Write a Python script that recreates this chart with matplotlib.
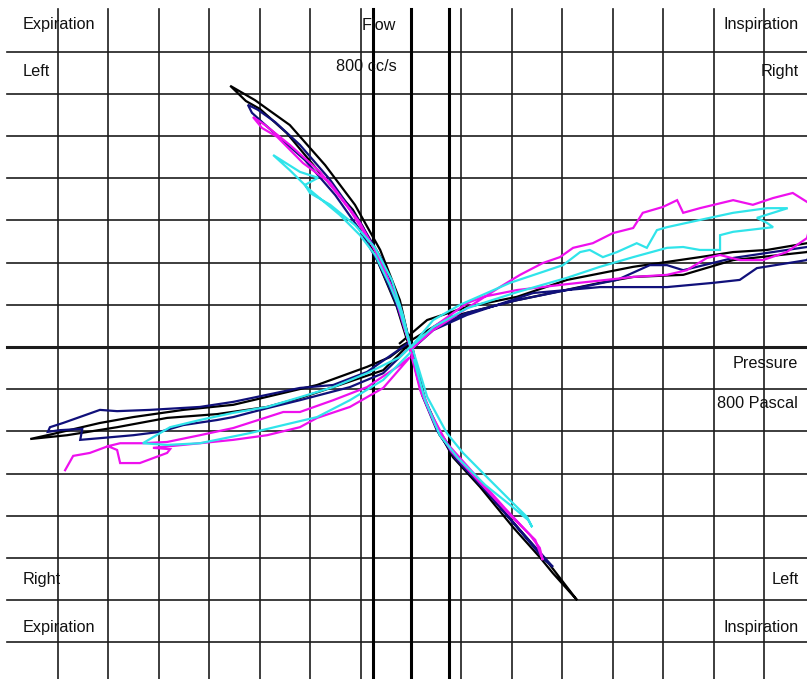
import matplotlib
matplotlib.use("Agg")
import matplotlib.pyplot as plt

plt.rcParams["font.family"] = ["Liberation Sans", "DejaVu Sans"]

# Rhinomanometry loops: (pressure Pa, flow cc/s)
# left nostril: expiration (upper-left) / inspiration (lower-right)
# right nostril: expiration (lower-left) / inspiration (upper-right)

black_ul = [(0, 0), (-8, 17), (-28, 95), (-67, 206), (-95, 284), (-115, 325), (-180, 412),
            (-246, 507), (-299, 564), (-327, 583), (-358, 619), (-309, 585), (-240, 526),
            (-170, 431), (-111, 337), (-61, 230), (-22, 111), (-2, 5)]
black_lr = [(4, -7), (24, -118), (57, -204), (83, -261), (137, -332), (202, -427), (255, -498),
            (281, -536), (329, -600), (309, -569), (271, -510), (216, -434), (156, -351),
            (97, -273), (57, -209), (28, -126), (8, -31)]
black_ur = [(-22, 9), (32, 64), (111, 95), (210, 119), (309, 159), (440, 190), (572, 213),
            (638, 225), (705, 230), (784, 246), (800, 240), (784, 225), (638, 206), (539, 171),
            (440, 166), (374, 152), (210, 111), (77, 71), (-22, 0)]
black_ll = [(-2, 12), (-42, -24), (-87, -47), (-186, -90), (-253, -109), (-352, -137),
            (-451, -149), (-550, -166), (-616, -180), (-709, -206), (-754, -218), (-681, -209),
            (-582, -190), (-483, -168), (-384, -159), (-285, -142), (-220, -121), (-154, -95),
            (-55, -55), (-2, 9)]

navy_ul = [(0, 0), (-12, 40), (-32, 111), (-65, 201), (-101, 277), (-150, 360), (-210, 443),
           (-259, 495), (-293, 531), (-315, 555), (-323, 574), (-303, 562), (-269, 533),
           (-220, 479), (-160, 396), (-101, 296), (-57, 206), (-22, 100), (0, 0)]
navy_lr = [(4, -19), (28, -126), (57, -201), (97, -273), (156, -351), (216, -434), (281, -521),
           (265, -505), (206, -422), (147, -339), (87, -263), (51, -197), (22, -114), (2, -19)]
navy_ur = [(0, 0), (44, 45), (111, 81), (210, 111), (309, 135), (408, 159), (473, 194),
           (507, 194), (539, 182), (638, 211), (784, 237), (800, 232), (784, 206), (685, 187),
           (651, 159), (598, 152), (507, 142), (374, 142), (242, 128), (111, 76), (44, 40),
           (0, -7)]
navy_ll = [(-2, 12), (-87, -59), (-154, -90), (-220, -97), (-352, -130), (-418, -142),
           (-517, -149), (-582, -152), (-616, -149), (-689, -180), (-715, -190), (-719, -201),
           (-695, -197), (-651, -194), (-655, -220), (-616, -216), (-550, -209), (-497, -201),
           (-451, -185), (-384, -173), (-352, -166), (-285, -145), (-220, -126), (-121, -95),
           (-55, -62), (-2, 0)]

magenta_ul = [(0, -5), (-6, 17), (-22, 95), (-61, 206), (-101, 294), (-160, 389), (-214, 436),
              (-265, 498), (-295, 519), (-313, 545), (-289, 526), (-240, 479), (-180, 415),
              (-121, 325), (-71, 230), (-32, 123), (-12, 40), (0, 0)]
magenta_lr = [(-2, -7), (18, -102), (48, -185), (81, -249), (137, -322), (196, -398),
              (246, -457), (261, -505), (255, -476), (236, -446), (186, -382), (127, -303),
              (71, -228), (38, -154), (14, -78), (0, -7)]
magenta_ur = [(0, -5), (44, 40), (111, 92), (176, 142), (216, 171), (261, 199), (295, 213),
              (321, 235), (360, 246), (400, 270), (440, 282), (459, 318), (499, 332), (527, 348),
              (539, 318), (572, 329), (638, 348), (677, 337), (717, 353), (756, 365), (784, 344),
              (800, 330), (784, 258), (744, 225), (697, 206), (651, 206), (612, 218), (586, 211),
              (546, 182), (507, 171), (440, 166), (309, 149), (210, 135), (143, 119), (111, 104),
              (44, 47), (0, -7)]
magenta_ll = [(-685, -292), (-669, -258), (-636, -251), (-600, -235), (-582, -244),
              (-576, -275), (-537, -275), (-483, -251), (-477, -242), (-511, -239), (-418, -228),
              (-352, -220), (-285, -209), (-220, -190), (-186, -168), (-121, -142), (-55, -97),
              (-2, -24), (-22, -43), (-87, -95), (-154, -126), (-220, -154), (-253, -154),
              (-352, -192), (-418, -209), (-483, -225), (-531, -228), (-576, -228), (-600, -235)]

cyan_ul = [(0, 0), (-8, 28), (-22, 88), (-42, 147), (-71, 218), (-101, 265), (-141, 313),
           (-200, 372), (-240, 419), (-273, 455), (-220, 415), (-184, 401), (-210, 384),
           (-200, 365), (-160, 337), (-111, 289), (-71, 235), (-38, 159), (-16, 76), (-2, 5)]
cyan_lr = [(4, -7), (32, -118), (71, -204), (103, -251), (156, -315), (202, -370), (230, -403),
           (240, -427), (232, -410), (196, -374), (147, -327), (93, -263), (57, -209),
           (28, -126), (6, -31)]
cyan_ur = [(0, 0), (44, 64), (97, 100), (196, 152), (261, 178), (301, 194), (335, 225),
           (354, 230), (380, 213), (408, 225), (447, 246), (467, 235), (487, 277), (507, 284),
           (572, 301), (638, 318), (705, 329), (746, 329), (685, 306), (705, 294), (717, 284),
           (638, 273), (612, 265), (612, 230), (572, 230), (539, 237), (507, 235), (440, 213),
           (374, 190), (309, 164), (210, 130), (111, 92), (44, 47), (0, 0)]
cyan_ll = [(-2, 0), (-22, -24), (-87, -62), (-154, -95), (-220, -119), (-285, -142),
           (-352, -156), (-418, -173), (-477, -190), (-531, -228), (-483, -232), (-418, -228),
           (-319, -204), (-253, -185), (-186, -166), (-121, -126), (-55, -78), (-2, -14)]

curves = {
    "#000000": [black_ul, black_lr, black_ur, black_ll],
    "#10107a": [navy_ul, navy_lr, navy_ur, navy_ll],
    "#ee10ee": [magenta_ul, magenta_lr, magenta_ur, magenta_ll],
    "#30e4ea": [cyan_ul, cyan_lr, cyan_ur, cyan_ll],
}

grid_p = list(range(-700, 801, 100))
grid_f = list(range(-800, 701, 100))
marker_p = [-75, 0, 75]

fig = plt.figure(figsize=(8.07, 6.79), dpi=100)
ax = fig.add_axes([0, 0, 1, 1])
ax.set_xlim(-813.9, 784.2)
ax.set_ylim(-786.7, 822.3)
ax.axis("off")

# grid
for p in grid_p:
    ax.plot([p, p], [-800, 800], color="#1c1c1c", lw=1.2, zorder=1)
for f in grid_f:
    lw = 2.2 if f == 0 else 1.2
    ax.plot([-800, 800], [f, f], color="#1c1c1c", lw=lw, zorder=1)
for p in marker_p:
    ax.plot([p, p], [-800, 800], color="black", lw=2.2, zorder=1)

# measurement loops
for color, branches in curves.items():
    for pts in branches:
        xs = [pt[0] for pt in pts]
        ys = [pt[1] for pt in pts]
        ax.plot(xs, ys, color=color, lw=1.6, zorder=3, solid_joinstyle="miter")

fs = 11.7
ax.text(-770, 765, "Expiration", fontsize=fs, ha="left", va="center", color="#111111")
ax.text(-770, 652, "Left", fontsize=fs, ha="left", va="center", color="#111111")
ax.text(-97, 763, "Flow", fontsize=fs, ha="left", va="center", color="#111111")
ax.text(-148, 664, "800 cc/s", fontsize=fs, ha="left", va="center", color="#111111")
ax.text(768, 765, "Inspiration", fontsize=fs, ha="right", va="center", color="#111111")
ax.text(768, 652, "Right", fontsize=fs, ha="right", va="center", color="#111111")
ax.text(766, -38, "Pressure", fontsize=fs, ha="right", va="center", color="#111111")
ax.text(766, -133, "800 Pascal", fontsize=fs, ha="right", va="center", color="#111111")
ax.text(-770, -550, "Right", fontsize=fs, ha="left", va="center", color="#111111")
ax.text(-770, -664, "Expiration", fontsize=fs, ha="left", va="center", color="#111111")
ax.text(768, -550, "Left", fontsize=fs, ha="right", va="center", color="#111111")
ax.text(768, -664, "Inspiration", fontsize=fs, ha="right", va="center", color="#111111")

fig.savefig("out.png", dpi=100)
